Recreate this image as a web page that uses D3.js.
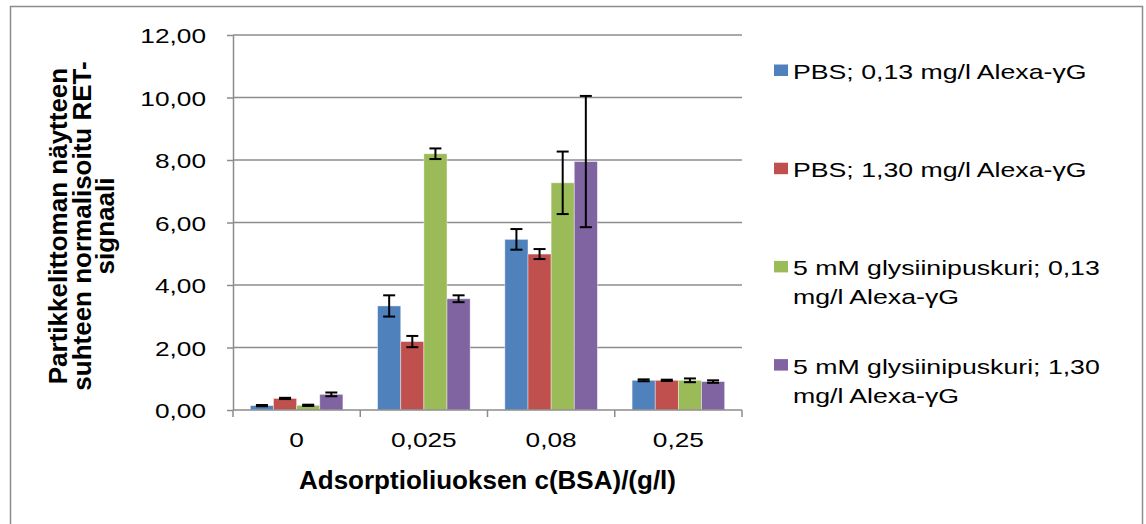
<!DOCTYPE html>
<html>
<head>
<meta charset="utf-8">
<script src="https://cdn.jsdelivr.net/npm/d3@7"></script>
<style>
  body { margin: 0; background: #fff; }
  text { font-family: "Liberation Sans", Arial, sans-serif; fill: #000; }
</style>
</head>
<body>
<div id="chart"></div>
<script>
// data
const categories = ["0", "0,025", "0,08", "0,25"];
const seriesNames = [
  "PBS; 0,13 mg/l Alexa-γG",
  "PBS; 1,30 mg/l Alexa-γG",
  "5 mM glysiinipuskuri; 0,13 mg/l Alexa-γG",
  "5 mM glysiinipuskuri; 1,30 mg/l Alexa-γG"
];
const seriesColors = ["#4f81bd", "#c0504d", "#9bbb59", "#8064a2"];
// one array per series, one value per category
const values = [
  [0.14, 3.33, 5.46, 0.95],
  [0.37, 2.19, 4.99, 0.95],
  [0.15, 8.20, 7.27, 0.95],
  [0.50, 3.56, 7.95, 0.91]
];
const errors = [
  [0.02, 0.34, 0.33, 0.03],
  [0.02, 0.18, 0.16, 0.02],
  [0.02, 0.17, 1.00, 0.06],
  [0.06, 0.11, 2.10, 0.04]
];
const yTicks = [0, 2, 4, 6, 8, 10, 12];
const yTitleLines = ["Partikkelittoman näytteen", "suhteen normalisoitu RET-", "signaali"];
const xTitle = "Adsorptioliuoksen c(BSA)/(g/l)";

const width = 1146, height = 524;
const plot = {left: 233, right: 742, top: 35, bottom: 410};
const sx = 1.25; // the regular text in the picture is stretched sideways
const fs = 21;
const grey = "#8c8c8c";
const fmt = d => d3.format(".2f")(d).replace(".", ",");

const svg = d3.select("#chart").append("svg")
    .attr("width", width)
    .attr("height", height);

// chart frame
svg.append("rect")
    .attr("x", 10.5).attr("y", 6.5)
    .attr("width", 1132).attr("height", 540)
    .attr("fill", "#fff")
    .attr("stroke", grey)
    .attr("stroke-width", 1.5);

const y = d3.scaleLinear().domain([0, 12]).range([plot.bottom, plot.top]);
const x0 = d3.scaleBand().domain(categories).range([plot.left, plot.right]).padding(0);
const x1 = d3.scaleBand().domain(d3.range(seriesNames.length))
    .range([0, x0.bandwidth()])
    .paddingInner(0).paddingOuter(0.75);

// grid lines
svg.append("g")
    .selectAll("line")
    .data(yTicks.filter(d => d > 0))
    .join("line")
    .attr("x1", plot.left).attr("x2", plot.right)
    .attr("y1", d => y(d)).attr("y2", d => y(d))
    .attr("stroke", grey)
    .attr("stroke-width", 1.5);

// y axis
const yAxis = svg.append("g")
    .attr("transform", `translate(${plot.left},0)`)
    .call(d3.axisLeft(y).tickValues(yTicks).tickFormat(fmt).tickSize(6).tickSizeOuter(0));
yAxis.select(".domain").attr("stroke", grey).attr("stroke-width", 1.5);
yAxis.selectAll(".tick line").attr("stroke", grey).attr("stroke-width", 1.5);
yAxis.selectAll(".tick text")
    .attr("font-size", fs)
    .attr("font-family", "Liberation Sans, Arial, sans-serif")
    .attr("fill", "#000")
    .attr("dy", "0.36em")
    .attr("x", -27 / sx)
    .attr("transform", `scale(${sx},1)`);

// bars
const groups = svg.append("g")
    .selectAll("g")
    .data(categories)
    .join("g")
    .attr("transform", d => `translate(${x0(d)},0)`);

groups.selectAll("rect")
    .data((c, ci) => values.map((v, si) => ({si, v: v[ci], e: errors[si][ci]})))
    .join("rect")
    .attr("x", d => x1(d.si))
    .attr("width", x1.bandwidth())
    .attr("y", d => y(d.v))
    .attr("height", d => y(0) - y(d.v))
    .attr("fill", d => seriesColors[d.si])
    .attr("stroke", "#fff")
    .attr("stroke-opacity", 0.5)
    .attr("stroke-width", 0.8);

// error bars
const cap = 6;
const err = groups.selectAll("g.err")
    .data((c, ci) => values.map((v, si) => ({si, v: v[ci], e: errors[si][ci]})))
    .join("g")
    .attr("class", "err")
    .attr("stroke", "#000")
    .attr("stroke-width", 2);
err.append("line")
    .attr("x1", d => x1(d.si) + x1.bandwidth() / 2)
    .attr("x2", d => x1(d.si) + x1.bandwidth() / 2)
    .attr("y1", d => y(d.v - d.e))
    .attr("y2", d => y(d.v + d.e));
[-1, 1].forEach(s => {
  err.append("line")
      .attr("x1", d => x1(d.si) + x1.bandwidth() / 2 - cap)
      .attr("x2", d => x1(d.si) + x1.bandwidth() / 2 + cap)
      .attr("y1", d => y(d.v + s * d.e))
      .attr("y2", d => y(d.v + s * d.e));
});

// x axis: line, boundary ticks, centred labels
const xg = svg.append("g");
xg.append("line")
    .attr("x1", plot.left).attr("x2", plot.right)
    .attr("y1", y(0)).attr("y2", y(0))
    .attr("stroke", grey).attr("stroke-width", 1.5);
xg.selectAll("line.tk")
    .data(d3.range(categories.length + 1))
    .join("line")
    .attr("class", "tk")
    .attr("x1", i => plot.left + i * x0.step())
    .attr("x2", i => plot.left + i * x0.step())
    .attr("y1", y(0)).attr("y2", y(0) + 7)
    .attr("stroke", grey).attr("stroke-width", 1.5);
xg.selectAll("text")
    .data(categories)
    .join("text")
    .attr("transform", d => `translate(${x0(d) + x0.bandwidth() / 2},${y(0) + 37}) scale(${sx},1)`)
    .attr("text-anchor", "middle")
    .attr("font-size", fs)
    .text(d => d);

// axis titles
svg.append("text")
    .attr("x", (plot.left + plot.right) / 2)
    .attr("y", 489)
    .attr("text-anchor", "middle")
    .attr("font-size", 26)
    .attr("font-weight", "bold")
    .text(xTitle);

const yt = svg.append("text")
    .attr("transform", `translate(67,226) rotate(-90)`)
    .attr("text-anchor", "middle")
    .attr("font-size", 26)
    .attr("font-weight", "bold");
yt.selectAll("tspan")
    .data(yTitleLines)
    .join("tspan")
    .attr("x", 0)
    .attr("y", (d, i) => i * 23.5)
    .text(d => d);

// legend
const legend = svg.append("g");
const maxLine = 340 / sx;
seriesNames.forEach((name, i) => {
  const base = 79 + 98.2 * i;
  legend.append("rect")
      .attr("x", 774).attr("y", base - 14.5)
      .attr("width", 14).attr("height", 11.5)
      .attr("fill", seriesColors[i]);
  const t = legend.append("text")
      .attr("transform", `translate(793,${base}) scale(1.27,1)`)
      .attr("font-size", fs);
  // wrap words onto lines
  const words = name.split(" ");
  let line = [], ln = 0;
  let tspan = t.append("tspan").attr("x", 0).attr("y", 0);
  words.forEach(w => {
    line.push(w);
    tspan.text(line.join(" "));
    if (tspan.node().getComputedTextLength() > maxLine && line.length > 1) {
      line.pop();
      tspan.text(line.join(" "));
      line = [w];
      ln++;
      tspan = t.append("tspan").attr("x", 0).attr("y", ln * 29).text(w);
    }
  });
});
</script>
</body>
</html>
